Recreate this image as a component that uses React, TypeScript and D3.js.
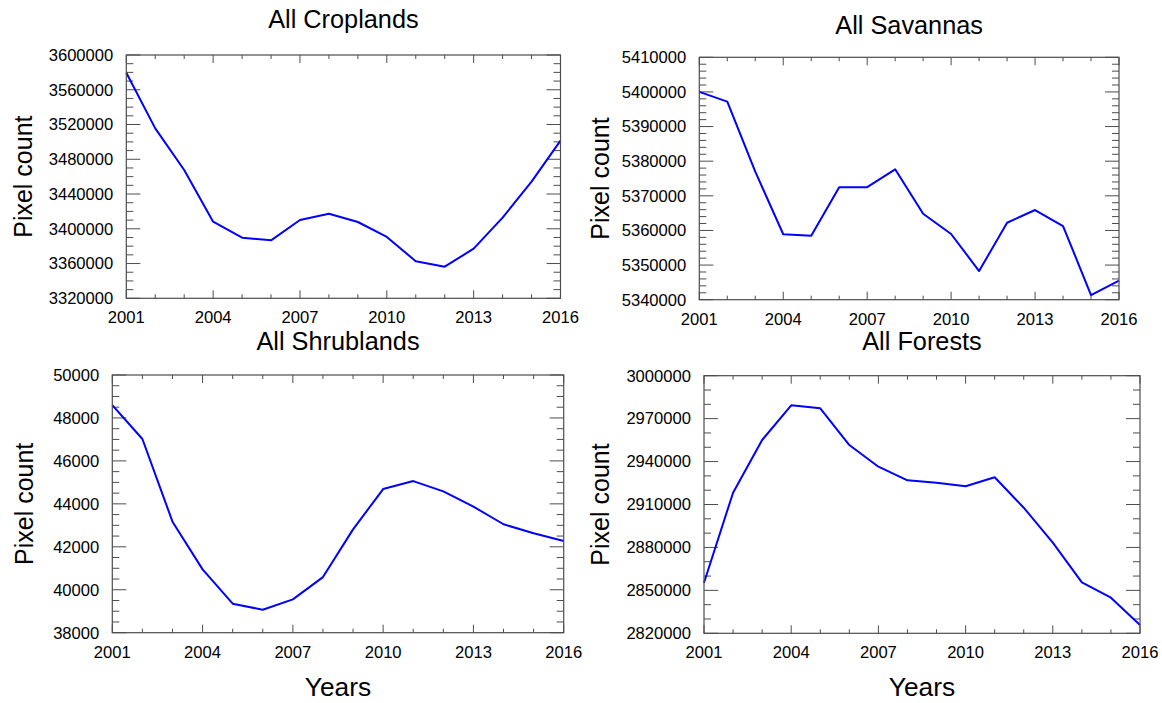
import React from "react";
import * as d3 from "d3";

const years = [2001, 2002, 2003, 2004, 2005, 2006, 2007, 2008, 2009, 2010, 2011, 2012, 2013, 2014, 2015, 2016];
const xMajorTicks = [2001, 2004, 2007, 2010, 2013, 2016];

const croplands = [3579600, 3515600, 3467700, 3408200, 3389800, 3386700, 3410100, 3417400, 3407800, 3390600, 3362600, 3356400, 3377100, 3412800, 3454200, 3501400];
const savannas = [5400000, 5397200, 5376960, 5358900, 5358500, 5372460, 5372500, 5377650, 5364830, 5358970, 5348280, 5362230, 5365900, 5361280, 5341350, 5345480];
const shrublands = [48600, 47020, 43170, 40950, 39350, 39070, 39550, 40590, 42810, 44690, 45060, 44580, 43870, 43050, 42630, 42270];
const forests = [2855350, 2918240, 2955070, 2979320, 2977220, 2951570, 2936410, 2926900, 2925230, 2922710, 2929000, 2907760, 2883300, 2855630, 2844870, 2825790];

const cropTicks = [3320000, 3360000, 3400000, 3440000, 3480000, 3520000, 3560000, 3600000];
const savTicks = [5340000, 5350000, 5360000, 5370000, 5380000, 5390000, 5400000, 5410000];
const shrubTicks = [38000, 40000, 42000, 44000, 46000, 48000, 50000];
const forestTicks = [2820000, 2850000, 2880000, 2910000, 2940000, 2970000, 3000000];

const titles = ["All Croplands", "All Savannas", "All Shrublands", "All Forests"];
const yTitle = "Pixel count";
const xTitle = "Years";

type Panel = {
  title: string;
  values: number[];
  yTicks: number[];
  yMinorStep: number;
  box: { l: number; r: number; t: number; b: number };
  titleY: number;
  yTitleX: number;
  showXTitle: boolean;
};

const panels: Panel[] = [
  { title: titles[0], values: croplands, yTicks: cropTicks, yMinorStep: 10000, box: { l: 126.3, r: 560.5, t: 55, b: 298.3 }, titleY: 28, yTitleX: 32, showXTitle: false },
  { title: titles[1], values: savannas, yTicks: savTicks, yMinorStep: 2000, box: { l: 699.3, r: 1119, t: 57.3, b: 299.7 }, titleY: 33.5, yTitleX: 609, showXTitle: false },
  { title: titles[2], values: shrublands, yTicks: shrubTicks, yMinorStep: 500, box: { l: 112.3, r: 563.7, t: 375, b: 632.7 }, titleY: 349.5, yTitleX: 33, showXTitle: true },
  { title: titles[3], values: forests, yTicks: forestTicks, yMinorStep: 10000, box: { l: 704, r: 1140, t: 375.7, b: 633.3 }, titleY: 349.5, yTitleX: 609, showXTitle: true },
];

const FONT = "'Liberation Sans', Arial, Helvetica, sans-serif";
const TICK_COLOR = "#4d4d4d";

function PanelView({ p }: { p: Panel }) {
  const { l, r, t, b } = p.box;
  const x = d3.scaleLinear().domain([years[0], years[years.length - 1]]).range([l, r]);
  const yMin = p.yTicks[0];
  const yMax = p.yTicks[p.yTicks.length - 1];
  const y = d3.scaleLinear().domain([yMin, yMax]).range([b, t]);
  const line = d3
    .line<number>()
    .x((_, i) => x(years[i]))
    .y((v) => y(v));
  const yMinor = d3.range(yMin, yMax + 1e-6, p.yMinorStep).filter((v) => !p.yTicks.includes(v));
  const xMinor = years.filter((v) => !xMajorTicks.includes(v));
  const cx = (l + r) / 2;
  const cy = (t + b) / 2;
  const yMaj = 14, yMin2 = 7, xMaj = 8, xMin2 = 4;
  return (
    <g>
      <text x={cx} y={p.titleY} textAnchor="middle" fontSize={25.3} fontFamily={FONT} fill="#000">
        {p.title}
      </text>
      <text
        transform={`translate(${p.yTitleX},${cy}) rotate(-90)`}
        textAnchor="middle"
        fontSize={25}
        fontFamily={FONT}
        fill="#000"
      >
        {yTitle}
      </text>
      {p.showXTitle && (
        <text x={cx} y={696} textAnchor="middle" fontSize={26.3} fontFamily={FONT} fill="#000">
          {xTitle}
        </text>
      )}
      {p.yTicks.map((v) => (
        <g key={"ym" + v}>
          <line x1={l} x2={l + yMaj} y1={y(v)} y2={y(v)} stroke={TICK_COLOR} strokeWidth={1} />
          <line x1={r} x2={r - yMaj} y1={y(v)} y2={y(v)} stroke={TICK_COLOR} strokeWidth={1} />
          <text x={l - 13} y={y(v)} dy="0.35em" textAnchor="end" fontSize={16.6} fontFamily={FONT} fill="#000">
            {String(v)}
          </text>
        </g>
      ))}
      {yMinor.map((v) => (
        <g key={"yn" + v}>
          <line x1={l} x2={l + yMin2} y1={y(v)} y2={y(v)} stroke={TICK_COLOR} strokeWidth={1} />
          <line x1={r} x2={r - yMin2} y1={y(v)} y2={y(v)} stroke={TICK_COLOR} strokeWidth={1} />
        </g>
      ))}
      {xMajorTicks.map((v) => (
        <g key={"xm" + v}>
          <line x1={x(v)} x2={x(v)} y1={b} y2={b - xMaj} stroke={TICK_COLOR} strokeWidth={1} />
          <line x1={x(v)} x2={x(v)} y1={t} y2={t + xMaj} stroke={TICK_COLOR} strokeWidth={1} />
          <text x={x(v)} y={b + 25} textAnchor="middle" fontSize={16.6} fontFamily={FONT} fill="#000">
            {String(v)}
          </text>
        </g>
      ))}
      {xMinor.map((v) => (
        <g key={"xn" + v}>
          <line x1={x(v)} x2={x(v)} y1={b} y2={b - xMin2} stroke={TICK_COLOR} strokeWidth={1} />
          <line x1={x(v)} x2={x(v)} y1={t} y2={t + xMin2} stroke={TICK_COLOR} strokeWidth={1} />
        </g>
      ))}
      <path d={line(p.values) || ""} fill="none" stroke="#0000ff" strokeWidth={2} strokeLinejoin="round" />
      <rect x={l} y={t} width={r - l} height={b - t} fill="none" stroke={TICK_COLOR} strokeWidth={1.2} />
    </g>
  );
}

export default function App() {
  return (
    <svg
      width={1162}
      height={703}
      viewBox="0 0 1162 703"
      style={{ position: "absolute", left: 0, top: 0, background: "#fff" }}
    >
      <rect x={0} y={0} width={1162} height={703} fill="#fff" />
      {panels.map((p) => (
        <PanelView key={p.title} p={p} />
      ))}
    </svg>
  );
}
